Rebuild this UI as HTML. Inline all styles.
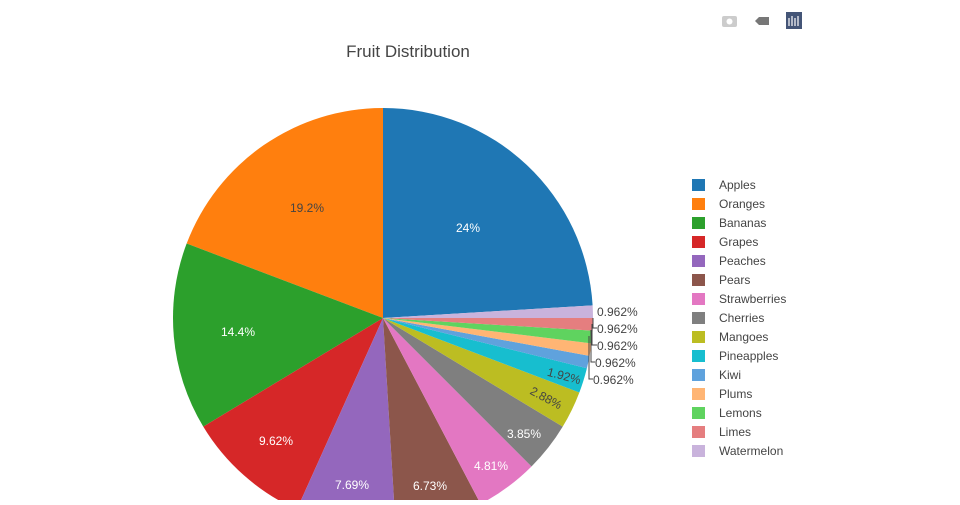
<!DOCTYPE html>
<html><head><meta charset="utf-8"><style>
body{margin:0;background:#fff;}
svg text{font-family:"Liberation Sans","DejaVu Sans",sans-serif;}
</style></head><body>
<svg id="s" width="960" height="500" xmlns="http://www.w3.org/2000/svg">
<text x="408" y="57" text-anchor="middle" font-size="17" fill="#444">Fruit Distribution</text>
<g id="pie"></g>
<g font-size="12" fill="#fff" text-anchor="middle">
<text x="468" y="232">24%</text>
<text x="307" y="212" fill="#444">19.2%</text>
<text x="238" y="336">14.4%</text>
<text x="276" y="445">9.62%</text>
<text x="352" y="489">7.69%</text>
<text x="430" y="490">6.73%</text>
<text x="491" y="470">4.81%</text>
<text x="524" y="438">3.85%</text>
<text x="546" y="402" fill="#444" transform="rotate(28 546 398)">2.88%</text>
<text x="564" y="380" fill="#444" transform="rotate(15 564 376)">1.92%</text>
</g>
<g font-size="12" fill="#444">
<text x="597" y="316">0.962%</text>
<text x="597" y="333">0.962%</text>
<text x="597" y="350">0.962%</text>
<text x="595" y="367">0.962%</text>
<text x="593" y="384">0.962%</text>
</g>
<g stroke="#444" stroke-width="1" fill="none">
<polyline points="593,318 593,328 597,328"/>
<polyline points="592,324 592,345 597,345"/>
<polyline points="591,330 591,362 595,362"/>
<polyline points="589,336 589,379 593,379"/>
</g>
<g id="leg" font-size="12" fill="#444"></g>
<rect x="722" y="16" width="15" height="11" rx="2" fill="#ccc"/>
<circle cx="729.5" cy="21.5" r="3" fill="#fff"/>
<path d="M755 21 L759 17 L769 17 L769 25 L759 25 Z" fill="#777"/>
<rect x="786" y="12" width="16" height="17" fill="#445577"/>
<g stroke="#fff" stroke-width="1.2"><line x1="789" y1="18" x2="789" y2="26"/><line x1="792" y1="16" x2="792" y2="26"/><line x1="795" y1="18" x2="795" y2="26"/><line x1="798" y1="16" x2="798" y2="26"/></g>
</svg>
<script>
var vals=[25,20,15,10,8,7,5,4,3,2,1,1,1,1,1];
var names=["Apples","Oranges","Bananas","Grapes","Peaches","Pears","Strawberries","Cherries","Mangoes","Pineapples","Kiwi","Plums","Lemons","Limes","Watermelon"];
var cols=["#1f77b4","#ff7f0e","#2ca02c","#d62728","#9467bd","#8c564b","#e377c2","#7f7f7f","#bcbd22","#17becf","#5fa2dd","#ffb574","#5fd35f","#e57e7f","#c9b3dc"];
var tot=104,cx=383,cy=318,r=210,ns="http://www.w3.org/2000/svg";
var a=25/tot*360; // start at apples end (clockwise from top), go counterclockwise
var g=document.getElementById("pie");
function pt(d){var t=d*Math.PI/180;return [cx+r*Math.sin(t),cy-r*Math.cos(t)];}
for(var i=0;i<vals.length;i++){
 var b=a-vals[i]/tot*360;var p1=pt(a),p2=pt(b);
 var large=(a-b)>180?1:0;
 var p=document.createElementNS(ns,"path");
 p.setAttribute("d","M"+cx+","+cy+"L"+p1[0]+","+p1[1]+"A"+r+","+r+" 0 "+large+" 0 "+p2[0]+","+p2[1]+"Z");
 p.setAttribute("fill",cols[i]);p.setAttribute("stroke","#fff");p.setAttribute("stroke-width","0");
 g.appendChild(p);a=b;
}
var L=document.getElementById("leg");
for(var i=0;i<names.length;i++){
 var y=185+i*19;
 var rc=document.createElementNS(ns,"rect");
 rc.setAttribute("x",692);rc.setAttribute("y",y-6);rc.setAttribute("width",13);rc.setAttribute("height",12);rc.setAttribute("fill",cols[i]);
 L.appendChild(rc);
 var t=document.createElementNS(ns,"text");t.setAttribute("x",719);t.setAttribute("y",y+4);t.textContent=names[i];L.appendChild(t);
}
</script>
</body></html>
